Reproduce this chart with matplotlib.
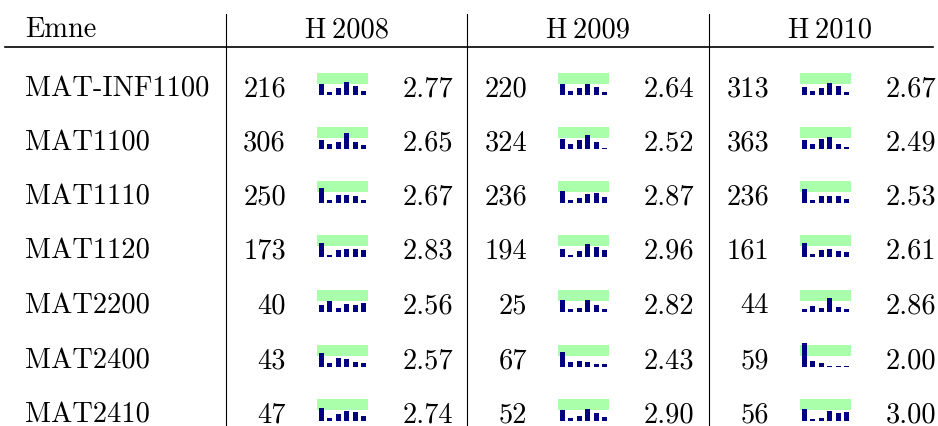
import matplotlib
matplotlib.use("Agg")
import matplotlib.pyplot as plt

plt.rcParams['font.family'] = ['cmr10', 'DejaVu Serif']
plt.rcParams['axes.formatter.use_mathtext'] = True

W, H = 938, 427

courses = ['MAT-INF1100', 'MAT1100', 'MAT1110', 'MAT1120', 'MAT2200', 'MAT2400', 'MAT2410']
semesters = ['H\u20092008', 'H\u20092009', 'H\u20092010']

counts_2008 = [216, 306, 250, 173, 40, 43, 47]
counts_2009 = [220, 324, 236, 194, 25, 67, 52]
counts_2010 = [313, 363, 236, 161, 44, 59, 56]

means_2008 = [2.77, 2.65, 2.67, 2.83, 2.56, 2.57, 2.74]
means_2009 = [2.64, 2.52, 2.87, 2.96, 2.82, 2.43, 2.90]
means_2010 = [2.67, 2.49, 2.53, 2.61, 2.86, 2.00, 3.00]

# grade distribution A..F (relative bar heights read from the sparklines)
dist_2008 = [
    [11, 3, 7, 13, 9, 4],
    [9, 5, 7, 16, 7, 4],
    [15, 3, 8, 8, 7, 3],
    [14, 2, 7, 8, 8, 7],
    [7, 11, 4, 8, 7, 9],
    [14, 4, 9, 8, 5, 4],
    [13, 3, 7, 10, 9, 5],
]
dist_2009 = [
    [11, 4, 7, 11, 8, 3],
    [10, 5, 9, 14, 7, 1],
    [12, 3, 5, 9, 10, 6],
    [8, 2, 6, 13, 10, 7],
    [12, 3, 4, 12, 7, 3],
    [15, 5, 6, 5, 3, 3],
    [11, 3, 5, 12, 8, 4],
]
dist_2010 = [
    [8, 4, 7, 12, 9, 3],
    [9, 5, 10, 12, 5, 2],
    [14, 3, 7, 7, 7, 4],
    [14, 3, 7, 8, 6, 5],
    [3, 6, 4, 14, 5, 3],
    [24, 6, 4, 1, 1, 1],
    [12, 2, 3, 10, 8, 9],
]

counts = [counts_2008, counts_2009, counts_2010]
means = [means_2008, means_2009, means_2010]
dists = [dist_2008, dist_2009, dist_2010]

band_lo, band_hi = 11, 22
fs = 20.5

fig = plt.figure(figsize=(W / 100, H / 100), dpi=100)
bg = fig.add_axes([0, 0, 1, 1])
bg.set_xlim(0, W)
bg.set_ylim(H, 0)
bg.axis('off')

row_y = [89, 143, 197, 251, 306, 361, 415]
col_left = [226, 467, 709]
head_y = 30

# header
bg.text(25, head_y, 'Emne', fontsize=fs, ha='left', va='center')
for j, s in enumerate(semesters):
    bg.text(col_left[j] + 121, head_y, s, fontsize=fs, ha='center', va='center')
bg.plot([5, 933], [48, 48], color='black', lw=1.2)
for x in col_left:
    bg.plot([x, x], [15, H], color='black', lw=0.8)

for i, c in enumerate(courses):
    y = row_y[i]
    bg.text(25, y, c, fontsize=fs, ha='left', va='center')
    for j in range(3):
        x0 = col_left[j]
        bg.text(x0 + 60, y, str(counts[j][i]), fontsize=fs, ha='right', va='center')
        bg.text(x0 + 227, y, f'{means[j][i]:.2f}', fontsize=fs, ha='right', va='center')

        # sparkline
        sx0, sx1 = x0 + 91, x0 + 142
        base = y + 7
        top = base - 30
        ax = fig.add_axes([sx0 / W, 1 - base / H, (sx1 - sx0) / W, (base - top) / H])
        ax.set_xlim(-0.5, 5.5)
        ax.set_ylim(0, 30)
        ax.axis('off')
        ax.fill_between([-0.5, 5.5], band_lo, band_hi, color='#aaffaa', lw=0)
        ax.bar(range(6), dists[j][i], width=0.6, color='#000080', clip_on=False)

fig.savefig('out.png', dpi=100)
